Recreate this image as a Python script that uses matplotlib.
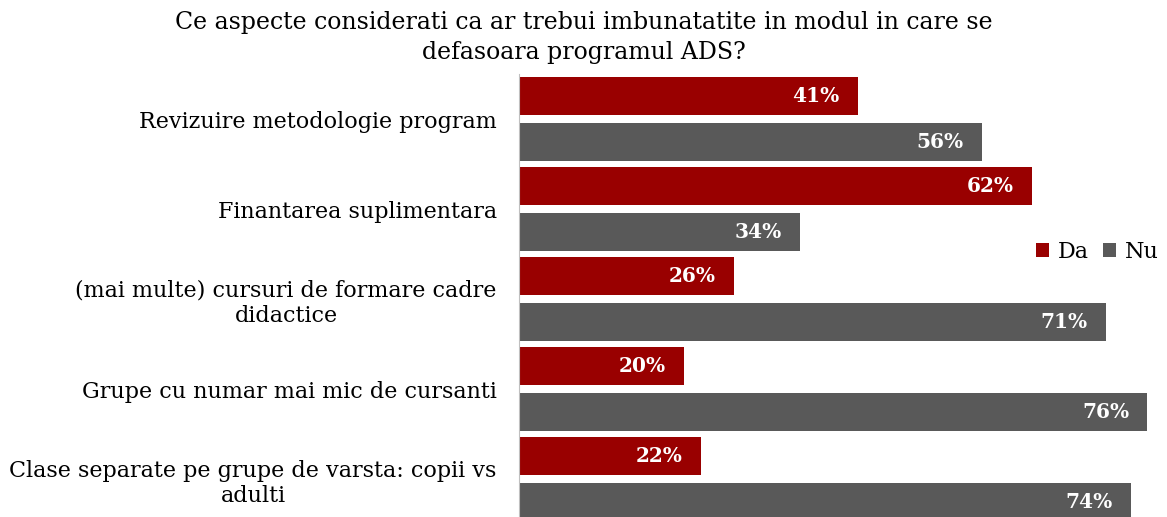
import matplotlib.pyplot as plt
import numpy as np

categories = [
    "Revizuire metodologie program",
    "Finantarea suplimentara",
    "(mai multe) cursuri de formare cadre\ndidactice",
    "Grupe cu numar mai mic de cursanti",
    "Clase separate pe grupe de varsta: copii vs\nadulti",
]
da = [41, 62, 26, 20, 22]
nu = [56, 34, 71, 76, 74]

plt.rcParams['font.family'] = ['DejaVu Serif']

fig = plt.figure(figsize=(11.67, 5.17), dpi=100)
ax = fig.add_axes([519 / 1167, 0.0, 645 / 1167, 1 - 74 / 517])

y = np.arange(len(categories))
h = 0.42
off = 0.255
b1 = ax.barh(y - off, da, height=h, color='#990000', label='Da')
b2 = ax.barh(y + off, nu, height=h, color='#595959', label='Nu')

for bars, vals in ((b1, da), (b2, nu)):
    for bar, v in zip(bars, vals):
        ax.text(bar.get_width() - 2.2, bar.get_y() + bar.get_height() / 2,
                f"{v}%", ha='right', va='center', color='white',
                fontsize=14.5, fontweight='bold')

ax.set_xlim(0, 78)
ax.set_ylim(4.42, -0.5)
ax.set_yticks(y)
ax.set_yticklabels(categories, fontsize=16, multialignment='center')
ax.tick_params(axis='y', length=0, pad=16)
ax.set_xticks([])
for s in ('top', 'right', 'bottom'):
    ax.spines[s].set_visible(False)
ax.spines['left'].set_color('#bfbfbf')

ax.legend(loc='center left', ncol=2, frameon=False,
          fontsize=16, handlelength=0.6, handleheight=0.6,
          handletextpad=0.4, columnspacing=0.6)
leg = ax.get_legend()
leg.set_bbox_to_anchor((1016 / 1167, 1 - 252 / 517), transform=fig.transFigure)

fig.text(0.5, 1 - 22 / 517,
         "Ce aspecte considerati ca ar trebui imbunatatite in modul in care se",
         ha='center', va='center', fontsize=17)
fig.text(0.5, 1 - 53 / 517, "defasoara programul ADS?",
         ha='center', va='center', fontsize=17)

fig.savefig('out.png', dpi=100)
